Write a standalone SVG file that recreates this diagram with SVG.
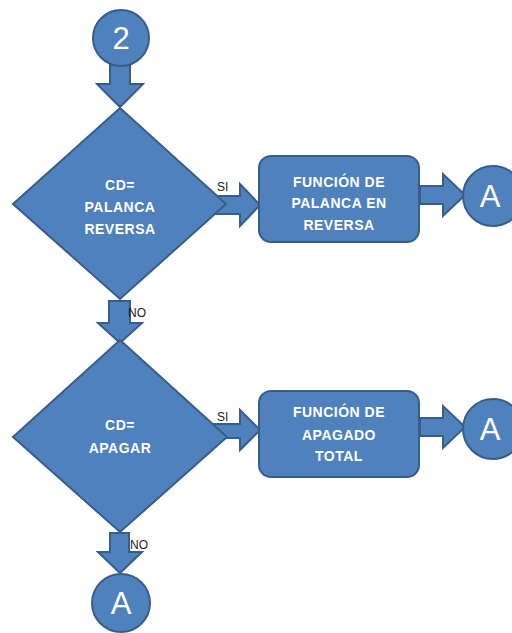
<svg xmlns="http://www.w3.org/2000/svg" width="512" height="633" viewBox="0 0 512 633">
<style>
.s{fill:#4F81BD;stroke:#385D8A;stroke-width:2;stroke-linejoin:miter}
.t{fill:#FFFFFF;font-family:"Liberation Sans",Arial,sans-serif;font-weight:bold;font-size:14px;text-anchor:middle;letter-spacing:0.5px}
.c{fill:#FFFFFF;font-family:"Liberation Sans",Arial,sans-serif;font-size:31px;text-anchor:middle}
.l{fill:#1a1a1a;font-family:"Liberation Sans",Arial,sans-serif;font-size:12px}
</style>
<rect width="512" height="633" fill="#FFFFFF"/>
<g id="connectors">
<polygon class="s" points="110,65 130,65 130,84 143,84 120,107 97,84 110,84"/>
<polygon class="s" points="210,196 240,196 240,184 260,205 240,226 240,214 210,214"/>
<text class="l" x="217" y="191">SI</text>
<polygon class="s" points="420,186 443,186 443,174 465,195 443,216 443,204 420,204"/>
<polygon class="s" points="109,301 130,301 130,323 142,323 120,343 98,323 109,323"/>
<text class="l" x="128" y="317">NO</text>
<polygon class="s" points="210,424 240,424 240,410 260,430 240,450 240,438 210,438"/>
<text class="l" x="217" y="421">SI</text>
<polygon class="s" points="420,418 443,418 443,406 465,427 443,448 443,436 420,436"/>
<polygon class="s" points="110,533 129,533 129,552 142,552 120,573 98,552 110,552"/>
<text class="l" x="130" y="549">NO</text>
</g>
<g id="start2">
<circle class="s" cx="121" cy="38" r="28"/>
<text class="c" x="121" y="49">2</text>
</g>
<g id="decision1">
<polygon class="s" points="120,108 226,204 120,299 13,204"/>
<text class="t" x="120" y="190">CD=</text>
<text class="t" x="120" y="212">PALANCA</text>
<text class="t" x="120" y="234">REVERSA</text>
</g>
<g id="process1">
<rect class="s" x="259" y="156" width="160" height="86" rx="12"/>
<text class="t" x="339" y="187">FUNCIÓN DE</text>
<text class="t" x="339" y="208">PALANCA EN</text>
<text class="t" x="339" y="230">REVERSA</text>
</g>
<g id="endA1">
<circle class="s" cx="493" cy="196" r="30"/>
<text class="c" x="490" y="207">A</text>
</g>
<g id="decision2">
<polygon class="s" points="120,340 227,437 120,532 13,437"/>
<text class="t" x="120" y="430">CD=</text>
<text class="t" x="120" y="453">APAGAR</text>
</g>
<g id="process2">
<rect class="s" x="259" y="391" width="160" height="86" rx="12"/>
<text class="t" x="339" y="417">FUNCIÓN DE</text>
<text class="t" x="339" y="440">APAGADO</text>
<text class="t" x="339" y="461">TOTAL</text>
</g>
<g id="endA2">
<circle class="s" cx="493" cy="429" r="30"/>
<text class="c" x="490" y="440">A</text>
</g>
<g id="endA3">
<circle class="s" cx="121" cy="603" r="29"/>
<text class="c" x="121" y="614">A</text>
</g>
</svg>
